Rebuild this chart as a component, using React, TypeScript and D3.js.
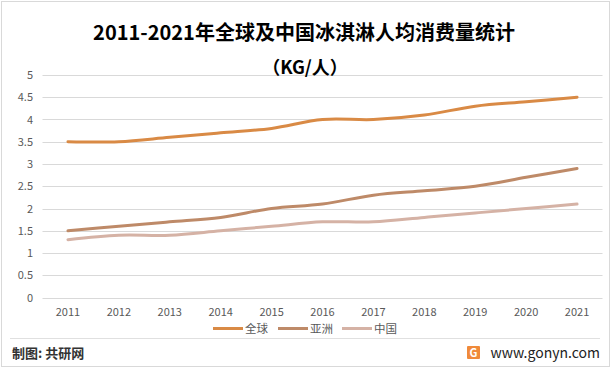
import React, { useEffect, useRef } from "react";
import * as d3 from "d3";

const years = ["2011", "2012", "2013", "2014", "2015", "2016", "2017", "2018", "2019", "2020", "2021"];
const globalVals = [3.5, 3.5, 3.6, 3.7, 3.8, 4.0, 4.0, 4.1, 4.3, 4.4, 4.5];
const asiaVals = [1.5, 1.6, 1.7, 1.8, 2.0, 2.1, 2.3, 2.4, 2.5, 2.7, 2.9];
const chinaVals = [1.3, 1.4, 1.4, 1.5, 1.6, 1.7, 1.7, 1.8, 1.9, 2.0, 2.1];
const yTicks = [0, 0.5, 1, 1.5, 2, 2.5, 3, 3.5, 4, 4.5, 5];

const series = [
  { name: "全球", values: globalVals, color: "#D98A45" },
  { name: "亚洲", values: asiaVals, color: "#BE8A68" },
  { name: "中国", values: chinaVals, color: "#D5B2A5" },
];

const W = 611;
const H = 368;
const font = "'Noto Sans CJK SC', 'Noto Sans', sans-serif";

const App = () => {
  const ref = useRef<SVGSVGElement>(null);

  useEffect(() => {
    document.body.style.margin = "0";
    draw();
  }, []);

  const draw = () => {
    const svg = d3.select(ref.current);
    svg.selectAll("*").remove();

    svg
      .append("rect")
      .attr("x", 1.5)
      .attr("y", 1.5)
      .attr("width", W - 3)
      .attr("height", H - 3)
      .attr("fill", "#fff")
      .attr("stroke", "#D9D9D9");

    const x = d3.scaleBand().domain(years).range([42.5, 602.5]);
    const y = d3.scaleLinear().domain([0, 5]).range([297.5, 75]);

    // grid
    svg
      .append("g")
      .selectAll("line")
      .data(yTicks)
      .join("line")
      .attr("x1", 42.5)
      .attr("x2", 602.5)
      .attr("y1", (d) => Math.round(y(d)) + 0.5)
      .attr("y2", (d) => Math.round(y(d)) + 0.5)
      .attr("stroke", "#D9D9D9")
      .attr("stroke-width", 1);

    svg
      .append("g")
      .selectAll("text")
      .data(yTicks)
      .join("text")
      .attr("x", 33)
      .attr("y", (d) => y(d) + 4)
      .attr("text-anchor", "end")
      .attr("font-size", 11)
      .attr("font-family", font)
      .attr("fill", "#595959")
      .text((d) => String(d));

    svg
      .append("g")
      .selectAll("text")
      .data(years)
      .join("text")
      .attr("x", (d) => (x(d) as number) + x.bandwidth() / 2)
      .attr("y", 316)
      .attr("text-anchor", "middle")
      .attr("font-size", 11)
      .attr("font-family", font)
      .attr("fill", "#595959")
      .text((d) => d);

    const line = d3
      .line<number>()
      .curve(d3.curveCatmullRom.alpha(0.5))
      .x((_, i) => (x(years[i]) as number) + x.bandwidth() / 2)
      .y((d) => y(d));

    series
      .slice()
      .reverse()
      .forEach((s) => {
        svg
          .append("path")
          .datum(s.values)
          .attr("fill", "none")
          .attr("stroke", s.color)
          .attr("stroke-width", 3)
          .attr("stroke-linecap", "round")
          .attr("d", line);
      });

    // title
    svg
      .append("text")
      .attr("x", 304)
      .attr("y", 40)
      .attr("text-anchor", "middle")
      .attr("font-size", 20)
      .attr("font-weight", "bold")
      .attr("font-family", font)
      .attr("fill", "#000")
      .text("2011-2021年全球及中国冰淇淋人均消费量统计");
    svg
      .append("text")
      .attr("x", 305)
      .attr("y", 74)
      .attr("text-anchor", "middle")
      .attr("font-size", 18)
      .attr("font-weight", "bold")
      .attr("font-family", font)
      .attr("fill", "#000")
      .text("（KG/人）");

    // legend
    const legendX = [213, 278, 342];
    series.forEach((s, i) => {
      const g = svg.append("g");
      g.append("line")
        .attr("x1", legendX[i])
        .attr("x2", legendX[i] + 30)
        .attr("y1", 328.5)
        .attr("y2", 328.5)
        .attr("stroke", s.color)
        .attr("stroke-width", 3);
      g.append("text")
        .attr("x", legendX[i] + 32)
        .attr("y", 333)
        .attr("font-size", 11.5)
        .attr("font-family", font)
        .attr("fill", "#595959")
        .text(s.name);
    });

    // footer
    svg
      .append("line")
      .attr("x1", 10)
      .attr("x2", 600)
      .attr("y1", 338.5)
      .attr("y2", 338.5)
      .attr("stroke", "#E0E0E0");
    svg
      .append("text")
      .attr("x", 12)
      .attr("y", 358)
      .attr("font-size", 13)
      .attr("font-weight", "bold")
      .attr("font-family", font)
      .attr("fill", "#333")
      .text("制图: 共研网");
    svg
      .append("rect")
      .attr("x", 467)
      .attr("y", 346)
      .attr("width", 13)
      .attr("height", 13)
      .attr("rx", 1)
      .attr("fill", "#F08A3A");
    svg
      .append("text")
      .attr("x", 473.5)
      .attr("y", 357)
      .attr("text-anchor", "middle")
      .attr("font-size", 11)
      .attr("font-weight", "bold")
      .attr("font-family", font)
      .attr("fill", "#fff")
      .text("G");
    svg
      .append("text")
      .attr("x", 600)
      .attr("y", 358)
      .attr("text-anchor", "end")
      .attr("font-size", 14)
      .attr("font-family", font)
      .attr("fill", "#222")
      .text("www.gonyn.com");
  };

  return <svg ref={ref} width={W} height={H} style={{ display: "block" }} />;
};

export default App;
